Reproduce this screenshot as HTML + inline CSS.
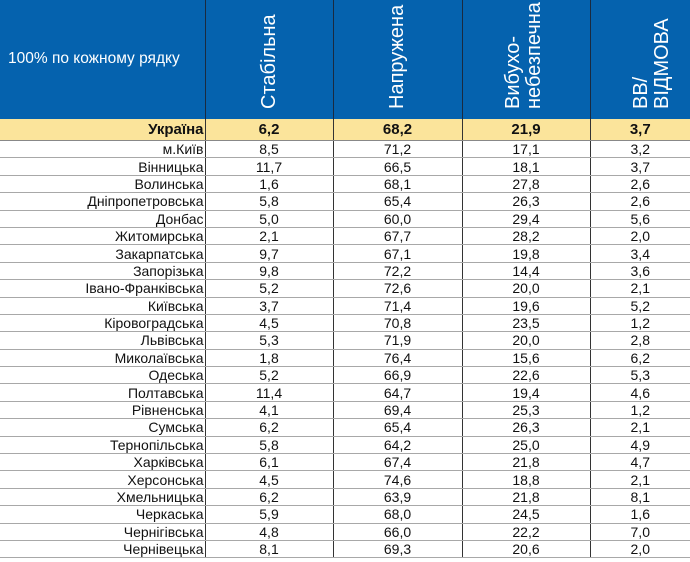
<!DOCTYPE html>
<html><head><meta charset="utf-8"><style>
body{margin:0;width:690px;height:562px;background:#fff;overflow:hidden;font-family:"Liberation Sans",Arial,sans-serif;}
.hdr{position:absolute;left:0;top:0;width:690px;height:119px;background:#0562ae;}
.hl{position:absolute;top:0;height:119px;width:1px;background:#1a2a40;}
.ht{position:absolute;color:#fff;font-size:20px;white-space:nowrap;transform:rotate(-90deg);transform-origin:left top;line-height:22px;}
table{position:absolute;left:0;top:119px;border-collapse:collapse;table-layout:fixed;width:690px;}
td{height:16.4px;padding:0;border-bottom:1px solid #a8a8a8;font-size:14px;color:#111;text-align:center;line-height:16px;border-left:1px solid #333;}
td:first-child{text-align:right;border-left:none;padding-right:1px;}
tr.u td{background:#fbe49b;font-weight:bold;font-size:15px;height:21px;border-bottom:1px solid #888;}
</style></head><body>
<div class="hdr"></div>
<div style="position:absolute;left:8px;top:50px;color:#fff;font-size:15.5px;">100% по кожному рядку</div>
<div class="hl" style="left:205px"></div><div class="hl" style="left:333px"></div><div class="hl" style="left:462px"></div><div class="hl" style="left:590px"></div>
<div class="ht" style="left:258px;top:109px;">Стабільна</div>
<div class="ht" style="left:386px;top:109px;">Напружена</div>
<div class="ht" style="left:503px;top:109px;line-height:21px;">Вибухо-<br>небезпечна</div>
<div class="ht" style="left:631px;top:109px;line-height:21px;">ВВ/<br>ВІДМОВА</div>
<table>
<colgroup><col style="width:205px"><col style="width:128px"><col style="width:129px"><col style="width:128px"><col style="width:100px"></colgroup>
<tr class="u"><td>Україна</td><td>6,2</td><td>68,2</td><td>21,9</td><td>3,7</td></tr>
<tr><td>м.Київ</td><td>8,5</td><td>71,2</td><td>17,1</td><td>3,2</td></tr>
<tr><td>Вінницька</td><td>11,7</td><td>66,5</td><td>18,1</td><td>3,7</td></tr>
<tr><td>Волинська</td><td>1,6</td><td>68,1</td><td>27,8</td><td>2,6</td></tr>
<tr><td>Дніпропетровська</td><td>5,8</td><td>65,4</td><td>26,3</td><td>2,6</td></tr>
<tr><td>Донбас</td><td>5,0</td><td>60,0</td><td>29,4</td><td>5,6</td></tr>
<tr><td>Житомирська</td><td>2,1</td><td>67,7</td><td>28,2</td><td>2,0</td></tr>
<tr><td>Закарпатська</td><td>9,7</td><td>67,1</td><td>19,8</td><td>3,4</td></tr>
<tr><td>Запорізька</td><td>9,8</td><td>72,2</td><td>14,4</td><td>3,6</td></tr>
<tr><td>Івано-Франківська</td><td>5,2</td><td>72,6</td><td>20,0</td><td>2,1</td></tr>
<tr><td>Київська</td><td>3,7</td><td>71,4</td><td>19,6</td><td>5,2</td></tr>
<tr><td>Кіровоградська</td><td>4,5</td><td>70,8</td><td>23,5</td><td>1,2</td></tr>
<tr><td>Львівська</td><td>5,3</td><td>71,9</td><td>20,0</td><td>2,8</td></tr>
<tr><td>Миколаївська</td><td>1,8</td><td>76,4</td><td>15,6</td><td>6,2</td></tr>
<tr><td>Одеська</td><td>5,2</td><td>66,9</td><td>22,6</td><td>5,3</td></tr>
<tr><td>Полтавська</td><td>11,4</td><td>64,7</td><td>19,4</td><td>4,6</td></tr>
<tr><td>Рівненська</td><td>4,1</td><td>69,4</td><td>25,3</td><td>1,2</td></tr>
<tr><td>Сумська</td><td>6,2</td><td>65,4</td><td>26,3</td><td>2,1</td></tr>
<tr><td>Тернопільська</td><td>5,8</td><td>64,2</td><td>25,0</td><td>4,9</td></tr>
<tr><td>Харківська</td><td>6,1</td><td>67,4</td><td>21,8</td><td>4,7</td></tr>
<tr><td>Херсонська</td><td>4,5</td><td>74,6</td><td>18,8</td><td>2,1</td></tr>
<tr><td>Хмельницька</td><td>6,2</td><td>63,9</td><td>21,8</td><td>8,1</td></tr>
<tr><td>Черкаська</td><td>5,9</td><td>68,0</td><td>24,5</td><td>1,6</td></tr>
<tr><td>Чернігівська</td><td>4,8</td><td>66,0</td><td>22,2</td><td>7,0</td></tr>
<tr><td>Чернівецька</td><td>8,1</td><td>69,3</td><td>20,6</td><td>2,0</td></tr>
</table>
</body></html>
